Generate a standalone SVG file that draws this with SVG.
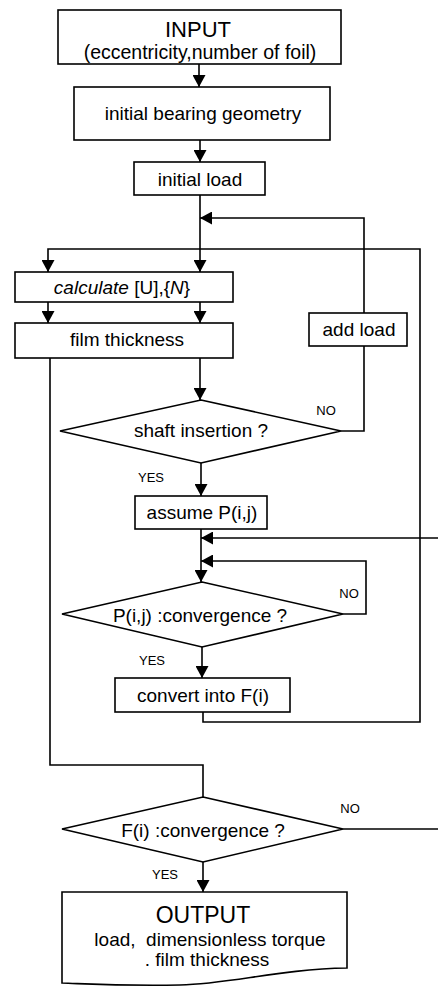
<svg xmlns="http://www.w3.org/2000/svg" width="438" height="987" viewBox="0 0 438 987">
  <style>
    .box { fill: #fff; stroke: #000; stroke-width: 1.6; }
    .wire { fill: none; stroke: #000; stroke-width: 1.6; }
    .arrow { marker-end: url(#head); }
    text { font-family: "Liberation Sans", Arial, sans-serif; fill: #000; text-anchor: middle; }
    .t { font-size: 19px; }
    .title { font-size: 22px; }
    .lbl { font-size: 13px; }
    .it { font-style: italic; }
  </style>
  <defs>
    <marker id="head" markerUnits="userSpaceOnUse" markerWidth="13" markerHeight="13" refX="12" refY="6.5" orient="auto">
      <path d="M0,0 L12,6.5 L0,13 Z" fill="#000"/>
    </marker>
  </defs>
  <rect width="438" height="987" fill="#fff"/>

  <!-- connectors -->
  <g id="connectors">
    <path class="wire arrow" d="M199,64 V87"/>
    <path class="wire arrow" d="M200,140 V162"/>
    <path class="wire arrow" d="M200,195 V272"/>
    <!-- add load feedback -->
    <path class="wire arrow" d="M364,346 V431 H341 M364,313 V218 H200"/>
    <!-- outer loop from convert into F(i) back to calculate -->
    <path class="wire arrow" d="M203,712 V722 H420 V249 H48 V272"/>
    <path class="wire arrow" d="M48,302 V323"/>
    <path class="wire arrow" d="M200,302 V323"/>
    <path class="wire arrow" d="M200,358 V400"/>
    <!-- film thickness to final check -->
    <path class="wire" d="M50,358 V765 H203 V797"/>
    <path class="wire arrow" d="M201,463 V496"/>
    <path class="wire arrow" d="M201,529 V582"/>
    <path class="wire arrow" d="M438,538 H201"/>
    <path class="wire arrow" d="M343,614 H366 V561 H201"/>
    <path class="wire arrow" d="M202,647 V678"/>
    <path class="wire" d="M343,829 H438"/>
    <path class="wire arrow" d="M203,862 V892"/>
    <text class="lbl" x="326" y="415">NO</text>
    <text class="lbl" x="151" y="482">YES</text>
    <text class="lbl" x="349" y="598">NO</text>
    <text class="lbl" x="152" y="665">YES</text>
    <text class="lbl" x="350" y="813">NO</text>
    <text class="lbl" x="165" y="879">YES</text>
  </g>

  <g id="input">
    <rect class="box" x="58" y="10" width="283" height="54"/>
    <text class="title" x="198" y="37">INPUT</text>
    <text class="t" x="200" y="59" style="font-size:19.5px">(eccentricity,number of foil)</text>
  </g>
  <g id="geometry">
    <rect class="box" x="74" y="87" width="256" height="53"/>
    <text class="t" x="203" y="120">initial bearing geometry</text>
  </g>
  <g id="initial-load">
    <rect class="box" x="134" y="162" width="131" height="33"/>
    <text class="t" x="200" y="186">initial load</text>
  </g>
  <g id="calculate">
    <rect class="box" x="15" y="272" width="218" height="30"/>
    <text class="t" x="122" y="294"><tspan class="it">calculate</tspan> [U],{<tspan class="it">N</tspan>}</text>
  </g>
  <g id="film">
    <rect class="box" x="15" y="323" width="218" height="35"/>
    <text class="t" x="127" y="346">film thickness</text>
  </g>
  <g id="add-load">
    <rect class="box" x="309" y="313" width="98" height="33"/>
    <text class="t" x="359" y="336">add load</text>
  </g>
  <g id="shaft">
    <path class="box" d="M201,400 L341,431 L201,463 L60,431 Z"/>
    <text class="t" x="201" y="437">shaft insertion ?</text>
  </g>
  <g id="assume">
    <rect class="box" x="135" y="496" width="132" height="33"/>
    <text class="t" x="202" y="519">assume P(i,j)</text>
  </g>
  <g id="p-check">
    <path class="box" d="M202,582 L343,614 L202,647 L62,614 Z"/>
    <text class="t" x="200" y="622">P(i,j) :convergence ?</text>
  </g>
  <g id="convert">
    <rect class="box" x="115" y="678" width="175" height="34"/>
    <text class="t" x="203" y="702">convert into F(i)</text>
  </g>
  <g id="f-check">
    <path class="box" d="M203,797 L343,829 L203,862 L62,829 Z"/>
    <text class="t" x="203" y="837">F(i) :convergence ?</text>
  </g>
  <g id="output">
    <path class="box" d="M62,892 H347 V968 C280,969 230,984 180,985 C120,986 90,984 62,983 Z"/>
    <text class="title" x="203" y="923" style="font-size:23px">OUTPUT</text>
    <text class="t" x="210" y="946" xml:space="preserve">load,  dimensionless torque</text>
    <text class="t" x="207" y="966">. film thickness</text>
  </g>
</svg>
